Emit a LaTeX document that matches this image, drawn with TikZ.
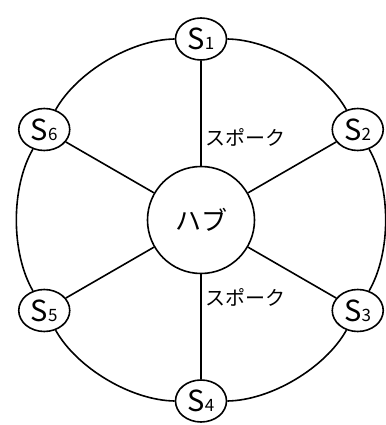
\documentclass[tikz,border=0pt]{standalone}
\usepackage{fontspec}
\setmainfont{Noto Sans CJK JP}
\usepackage{tikz}
\usetikzlibrary{shapes.geometric, positioning}

\newcommand{\stnlabel}[1]{{\fontsize{29}{29}\selectfont S}{\fontsize{17}{17}\selectfont #1}}

\begin{document}
\begin{tikzpicture}[
    x=1pt, y=1pt,
    hub/.style={circle, draw, line width=1.6pt, minimum size=107pt, inner sep=0pt, fill=white, font=\fontsize{26}{26}\selectfont},
    station/.style={ellipse, draw, line width=1.6pt, minimum width=51pt, minimum height=42pt, inner sep=0pt, fill=white},
    link/.style={line width=1.6pt},
    ring/.style={line width=1.6pt},
    spokelabel/.style={right, font=\fontsize{20}{20}\selectfont},
]
\useasboundingbox (-201,-205) rectangle (184,220);

% Hub
\node[hub] (hub) at (0,0) {ハブ};

% Stations
\node[station] (s1) at (90:181)  {\stnlabel{1}};
\node[station] (s2) at (30:181)  {\stnlabel{2}};
\node[station] (s3) at (-30:181) {\stnlabel{3}};
\node[station] (s4) at (-90:181) {\stnlabel{4}};
\node[station] (s5) at (-150:181) {\stnlabel{5}};
\node[station] (s6) at (150:181) {\stnlabel{6}};

% Spokes
\draw[link] (hub) -- (s1) node[spokelabel, pos=0.27] {スポーク};
\draw[link] (hub) -- (s2);
\draw[link] (hub) -- (s3);
\draw[link] (hub) -- (s4) node[spokelabel, pos=0.22] {スポーク};
\draw[link] (hub) -- (s5);
\draw[link] (hub) -- (s6);

% Ring
\draw[ring] (s1) to[bend right=30, looseness=0.8] (s6);
\draw[ring] (s6) to[bend right=30, looseness=0.8] (s5);
\draw[ring] (s5) to[bend right=30, looseness=0.8] (s4);
\draw[ring] (s4) to[bend right=30, looseness=0.8] (s3);
\draw[ring] (s3) to[bend right=30, looseness=0.8] (s2);
\draw[ring] (s2) to[bend right=30, looseness=0.8] (s1);

\end{tikzpicture}
\end{document}
